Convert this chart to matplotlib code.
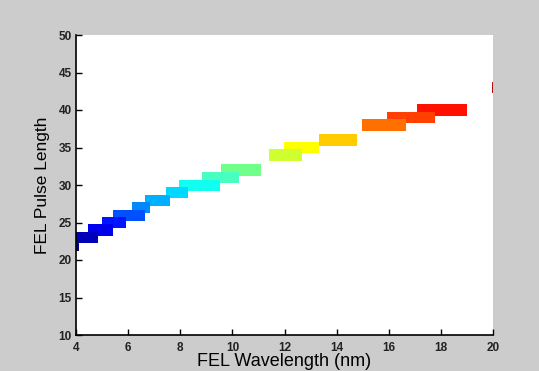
import matplotlib
matplotlib.use("Agg")
import matplotlib.pyplot as plt

# FEL wavelength ranges (nm) covered at each pulse length
wl_start = [3.3, 3.3, 4.45, 5.0, 5.43, 6.14, 6.65, 7.45, 7.96, 8.85, 9.55,
            11.4, 11.98, 13.31, 14.96, 15.95, 17.1, 19.95]
wl_end = [4.13, 4.83, 5.43, 5.9, 6.65, 6.84, 7.61, 8.31, 9.53, 10.26, 11.1,
          12.68, 13.32, 14.77, 16.66, 17.76, 19.0, 21.0]
pulse_len = [21.9, 23.0, 24.0, 25.0, 25.9, 27.0, 27.9, 29.0, 29.9, 31.0, 32.0,
             34.0, 35.0, 36.0, 38.0, 39.0, 40.0, 43.0]
bar_colors = ["#00008c", "#0000b8", "#0000ee", "#0014ff", "#0050ff", "#0088ff",
              "#00b0ff", "#00d8ff", "#10fff0", "#48ffc0", "#70ff88", "#d0ff30",
              "#ffff00", "#ffcc00", "#ff7000", "#ff4000", "#ff1000", "#b01010"]

xticks = [4, 6, 8, 10, 12, 14, 16, 18, 20]
yticks = [10, 15, 20, 25, 30, 35, 40, 45, 50]

fig = plt.figure(figsize=(5.39, 3.71), dpi=100, facecolor="#cccccc")
ax = fig.add_axes([76 / 539, 1 - 335 / 371, (493 - 76) / 539, 300 / 371])

# lower wavelengths end up on top
n = len(pulse_len)
for i in range(n):
    ax.barh(pulse_len[i], wl_end[i] - wl_start[i], left=wl_start[i], height=1.5,
            color=bar_colors[i], edgecolor="none", zorder=n - i)

ax.set_xlim(4, 20)
ax.set_ylim(10, 50)
ax.set_xticks(xticks)
ax.set_yticks(yticks)

for s in ["top", "right"]:
    ax.spines[s].set_visible(False)
for s in ["left", "bottom"]:
    ax.spines[s].set_linewidth(1.2)
    ax.spines[s].set_zorder(50)

ax.tick_params(direction="in", length=4, width=1)
ax.tick_params(axis="y", pad=3)
ax.tick_params(axis="x", pad=5)
for lab in ax.get_xticklabels() + ax.get_yticklabels():
    lab.set_family("Liberation Sans")
    lab.set_fontweight("bold")
    lab.set_fontsize(8.5)
    lab.set_color("#222222")

ax.set_xlabel("FEL Wavelength (nm)", family="Liberation Sans", fontsize=13, labelpad=-1)
ax.set_ylabel("FEL Pulse Length", family="Liberation Sans", fontsize=12.5, labelpad=6)

fig.savefig("out.png", dpi=100, facecolor=fig.get_facecolor())
